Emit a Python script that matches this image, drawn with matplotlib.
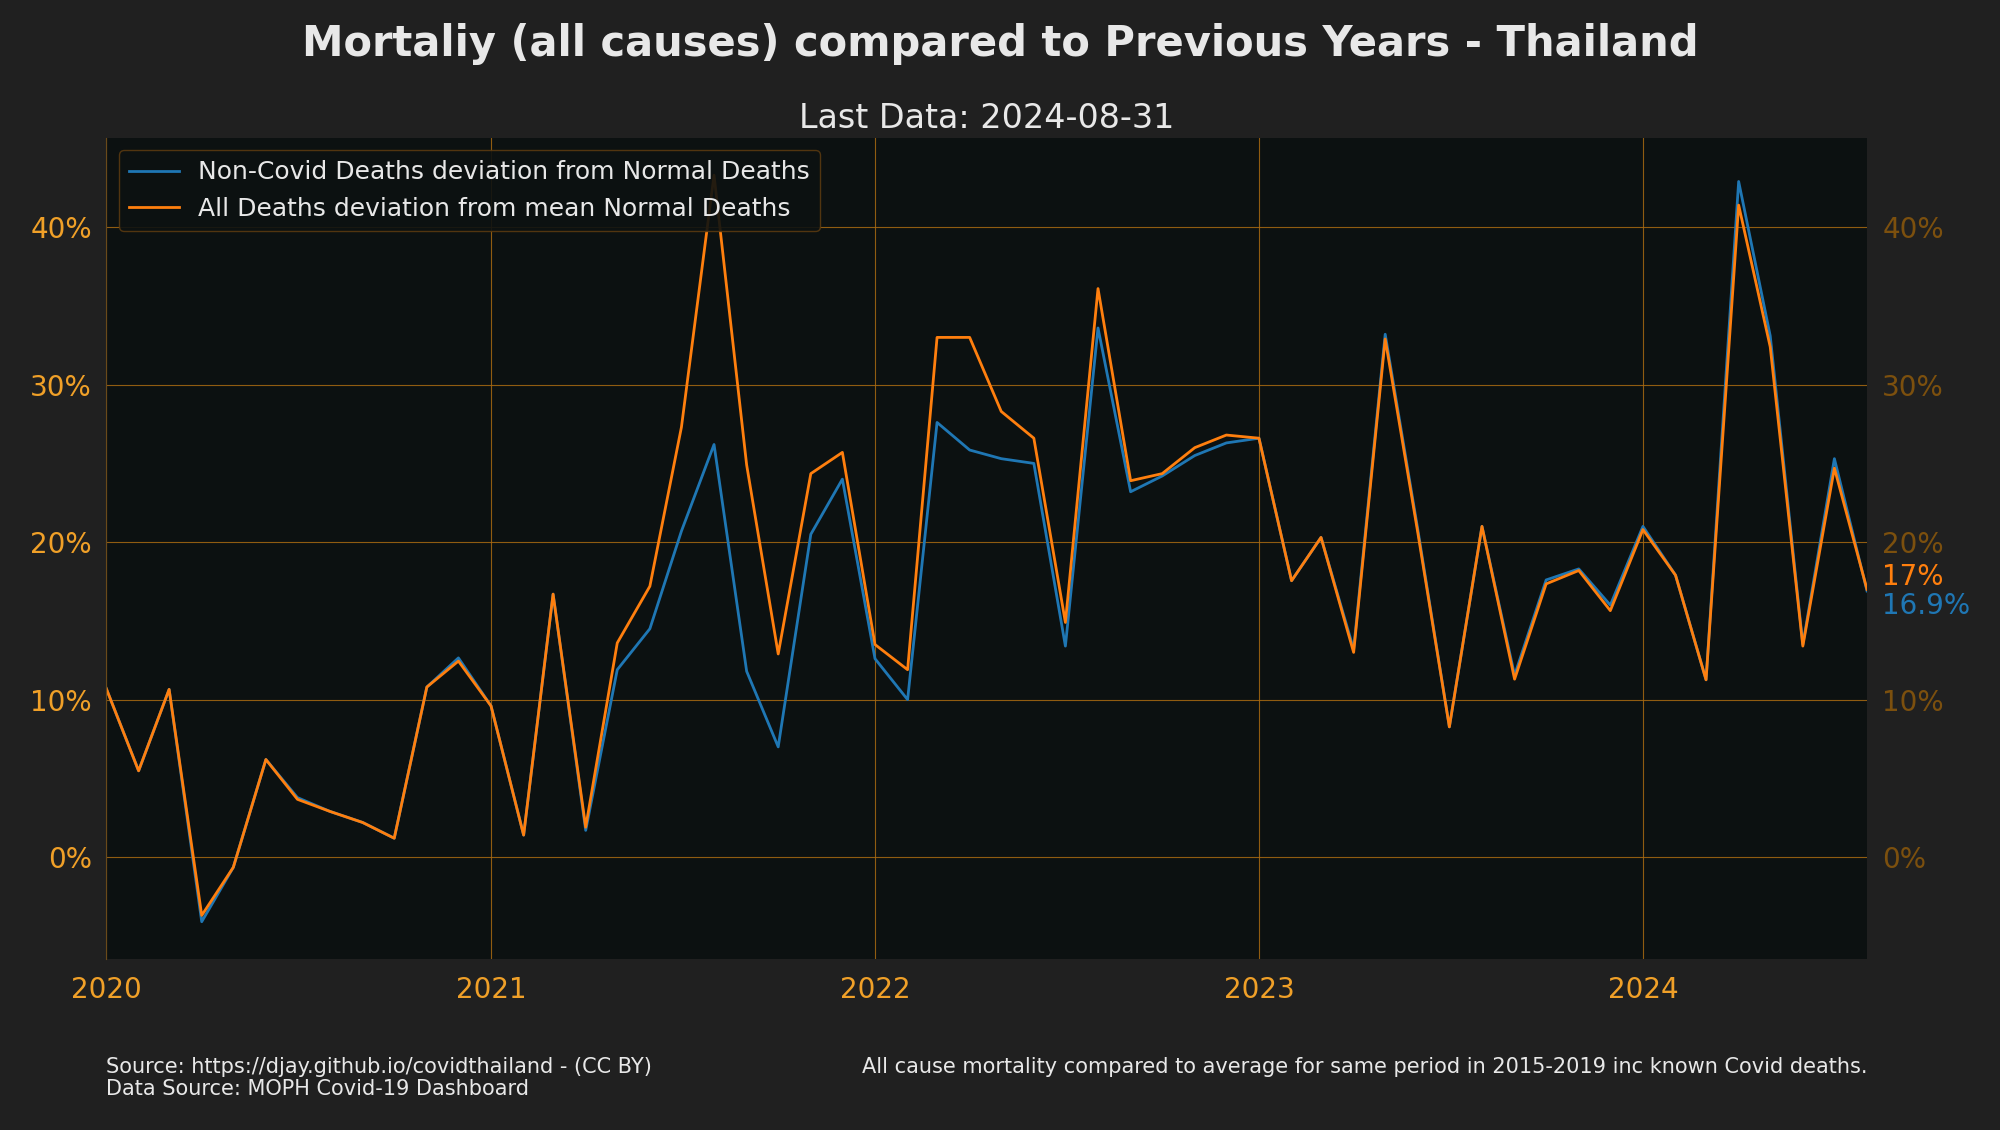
# coding: utf-8
import pandas as pd
import matplotlib
matplotlib.use("Agg")
from matplotlib import pyplot as plt
import matplotlib.dates as mdates
from matplotlib.ticker import FuncFormatter

# monthly points, Jan 2020 .. Aug 2024 (percent deviation)
months = pd.date_range("2020-01-01", "2024-08-01", freq="MS")

non_covid = [
    10.75, 5.48, 10.65, -4.1, -0.65, 6.2, 3.78, 2.9, 2.2, 1.2, 10.8, 12.65,
    9.6, 1.4, 16.7, 1.7, 11.9, 14.5, 20.7, 26.2, 11.8, 7.0, 20.5, 24.0,
    12.6, 10.0, 27.6, 25.85, 25.3, 25.0, 13.4, 33.6, 23.2, 24.2, 25.5, 26.3,
    26.6, 17.55, 20.3, 13.2, 33.2, 20.8, 8.27, 21.0, 11.55, 17.6, 18.3, 16.0,
    21.0, 17.9, 11.26, 42.9, 33.1, 13.5, 25.3, 16.9,
]
all_deaths = [
    10.75, 5.48, 10.65, -3.7, -0.65, 6.2, 3.67, 2.9, 2.2, 1.2, 10.8, 12.45,
    9.6, 1.4, 16.7, 1.9, 13.6, 17.2, 27.3, 43.3, 24.9, 12.9, 24.35, 25.7,
    13.5, 11.9, 33.0, 33.0, 28.3, 26.6, 14.9, 36.1, 23.9, 24.35, 26.0, 26.8,
    26.6, 17.55, 20.3, 13.0, 32.9, 20.6, 8.27, 21.0, 11.3, 17.35, 18.2, 15.65,
    20.8, 17.9, 11.26, 41.4, 32.4, 13.4, 24.7, 17.0,
]
labels = ["Non-Covid Deaths deviation from Normal Deaths",
          "All Deaths deviation from mean Normal Deaths"]
last_labels = ["16.9%", "17%"]

plt.rcParams['font.family'] = ['DejaVu Sans']
BG = '#202020'
AXBG = '#0c1111'
GRID = '#a86a12'
TXT = '#e8e8e8'

fig = plt.figure(figsize=(20, 11.3), dpi=100, facecolor=BG)
ax = fig.add_axes([0.053, 0.1513, 0.8805, 0.7267], facecolor=AXBG)

ax.plot(months, non_covid, color='#1f77b4', lw=2, label=labels[0])
ax.plot(months, all_deaths, color='#ff7f0e', lw=2, label=labels[1])

ax.set_xlim(months[0], months[-1])
lo = min(min(non_covid), min(all_deaths))
hi = max(max(non_covid), max(all_deaths))
m = (hi - lo) * 0.05
ax.set_ylim(lo - m, hi + m)

ax.xaxis.set_major_locator(mdates.YearLocator())
ax.xaxis.set_major_formatter(mdates.DateFormatter('%Y'))
pct = FuncFormatter(lambda v, p: f"{v:.0f}%")
ax.yaxis.set_major_formatter(pct)
ax.tick_params(axis='both', length=0, labelsize=20, colors='#f0a028')
ax.tick_params(axis='y', pad=10)
ax.tick_params(axis='x', pad=12)
ax.grid(True, color=GRID, lw=0.8, alpha=0.85)
for s in ['top', 'right', 'bottom']:
    ax.spines[s].set_visible(False)
ax.spines['left'].set_color('#6a4a1a')

# right hand copy of the y axis
ax2 = ax.twinx()
ax2.set_ylim(ax.get_ylim())
ax2.yaxis.set_major_formatter(pct)
ax2.tick_params(axis='y', length=0, labelsize=20, colors='#7c500e', pad=11)
for s in ax2.spines.values():
    s.set_visible(False)

# last values at the right edge
ax.annotate(last_labels[1], xy=(1, all_deaths[-1]), xycoords=('axes fraction', 'data'),
            xytext=(11, 9), textcoords='offset points', va='center', ha='left',
            fontsize=20, color='#ff7f0e', annotation_clip=False)
ax.annotate(last_labels[0], xy=(1, non_covid[-1]), xycoords=('axes fraction', 'data'),
            xytext=(11, -11), textcoords='offset points', va='center', ha='left',
            fontsize=20, color='#1f77b4', annotation_clip=False)

leg = ax.legend(loc='upper left', fontsize=18, facecolor=AXBG, edgecolor='#5a3a10',
                framealpha=0.9, labelcolor=TXT, borderaxespad=0.5)

fig.text(0.5, 1 - 56 / 1130, "Mortaliy (all causes) compared to Previous Years - Thailand",
         ha='center', va='baseline', fontsize=30, fontweight='bold', color=TXT)
fig.text(0.4935, 1 - 128 / 1130, "Last Data: 2024-08-31",
         ha='center', va='baseline', fontsize=24, color=TXT)

fig.text(0.053, 1 - 1073 / 1130, "Source: https://djay.github.io/covidthailand - (CC BY)",
         ha='left', va='baseline', fontsize=15, color=TXT)
fig.text(0.053, 1 - 1095 / 1130, "Data Source: MOPH Covid-19 Dashboard",
         ha='left', va='baseline', fontsize=15, color=TXT)
fig.text(0.9335, 1 - 1073 / 1130,
         "All cause mortality compared to average for same period in 2015-2019 inc known Covid deaths.",
         ha='right', va='baseline', fontsize=15, color=TXT)

plt.savefig("out.png", dpi=100, facecolor=BG)
